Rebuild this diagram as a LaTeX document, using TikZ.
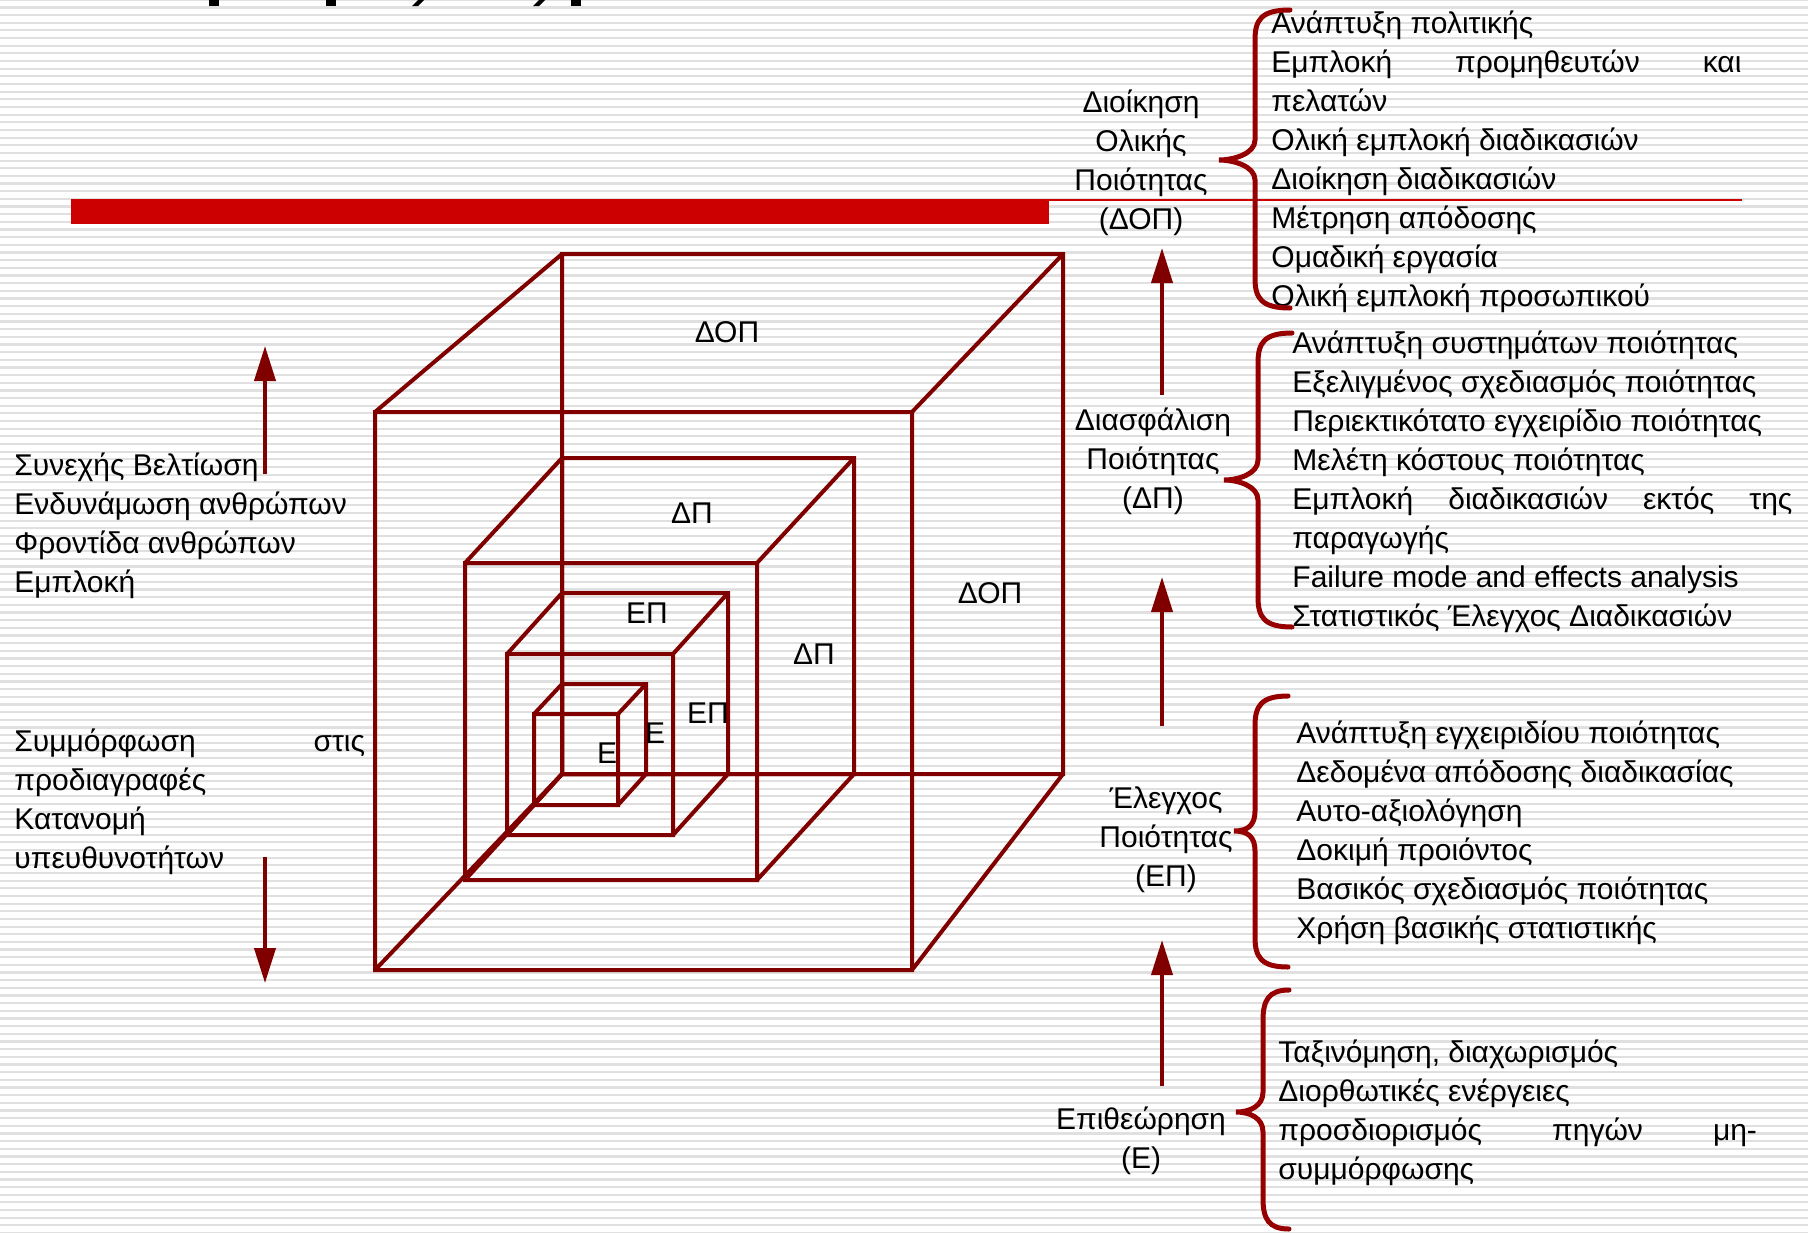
\documentclass[tikz,border=0pt]{standalone}
\usepackage{fontspec}
\setmainfont{Liberation Sans}
\usetikzlibrary{arrows.meta}
\definecolor{cubered}{RGB}{128,0,0}
\definecolor{bracered}{RGB}{150,0,0}
\definecolor{barred}{RGB}{204,0,0}
\definecolor{stripegray}{RGB}{224,224,224}
\begin{document}
\begin{tikzpicture}[x=0.5pt,y=-0.5pt] % единица = пиксель, ось y вниз
\tikzstyle{mystripe} = [draw=stripegray, line width=1.1pt] % полоски фона
\tikzstyle{mycube} = [draw=cubered, line width=2pt] % рёбра кубов
\tikzstyle{mybrace} = [draw=bracered, line width=2.5pt, line cap=round] % фигурные скобки
\tikzstyle{myarrow} = [draw=cubered, line width=2pt, -{Triangle[length=17.5pt,width=10.5pt]}] % стрелки
\tikzstyle{mytext} = [inner sep=0pt, font=\fontsize{15}{19.5}\selectfont, align=left, anchor=north west] % списки
\tikzstyle{mylevel} = [inner sep=0pt, font=\fontsize{15}{19.5}\selectfont, align=center, anchor=north] % уровни
\tikzstyle{mylabel} = [inner sep=0pt, font=\fontsize{15}{19.5}\selectfont, anchor=base] % подписи на кубах
\useasboundingbox (0,0) rectangle (1808,1232);
\fill[white] (0,0) rectangle (1808,1232);
\foreach \k [evaluate=\k as \y using 7.66*\k-0.26] in {0,...,161}
    \draw[mystripe] (0,\y) -- (1808,\y); % фон в полоску
% обрезанный заголовок
\fill (209,0) rectangle (219,6);
\fill (326,0) rectangle (336,6);
\fill (418,0) -- (424,0) -- (418,6) -- (412,6) -- cycle;
\fill (539,0) -- (545,0) -- (539,6) -- (533,6) -- cycle;
\fill (571,0) rectangle (581,6);
% красная полоса
\fill[barred] (71,199) rectangle (1049,224);
\draw[barred, line width=1pt] (1049,200) -- (1742,200);
% кубы: задняя грань / передняя грань
\foreach \bx/\by/\bX/\bY/\fx/\fy/\fX/\fY in {562/254/1063/774/375/412/912/970, 562/458/854/774/465/563/757/880, 562/593/728/774/507/654/673/835, 562/684/646/774/534/714/618/805}
    \draw[mycube] (\bx,\by) rectangle (\bX,\bY) (\fx,\fy) rectangle (\fX,\fY)
        (\bx,\by) -- (\fx,\fy) (\bX,\by) -- (\fX,\fy) (\bx,\bY) -- (\fx,\fY) (\bX,\bY) -- (\fX,\fY);
\node[mylabel] (dop1) at (727,342) {ΔΟΠ};
\node[mylabel] (dop2) at (990,603) {ΔΟΠ};
\node[mylabel] (dp1) at (692,523) {ΔΠ};
\node[mylabel] (dp2) at (814,664) {ΔΠ};
\node[mylabel] (ep1) at (647,623) {ΕΠ};
\node[mylabel] (ep2) at (708,723) {ΕΠ};
\node[mylabel] (e1) at (655,743) {Ε};
\node[mylabel] (e2) at (607,763) {Ε};
% левый столбец
\node[mytext] (left1) at (14,448.2) {\strut Συνεχής Βελτίωση\\Ενδυνάμωση ανθρώπων\\Φροντίδα ανθρώπων\\Εμπλοκή};
\node[mytext] (left2) at (14,724.2) {\strut\makebox[175.3pt][s]{Συμμόρφωση στις}\\προδιαγραφές\\Κατανομή\\υπευθυνοτήτων};
% уровни
\node[mylevel] (lvdop) at (1141,84.7) {\strut Διοίκηση\\Ολικής\\Ποιότητας\\(ΔΟΠ)};
\node[mylevel] (lvdp) at (1153,402.7) {\strut Διασφάλιση\\Ποιότητας\\(ΔΠ)};
\node[mylevel] (lvep) at (1166,780.7) {\strut Έλεγχος\\Ποιότητας\\(ΕΠ)};
\node[mylevel] (lve) at (1141,1101.7) {\strut Επιθεώρηση\\(Ε)};
% списки справа
\node[mytext] (list1) at (1271,5.7) {\strut Ανάπτυξη πολιτικής\\\makebox[235pt][s]{Εμπλοκή προμηθευτών και}\\πελατών\\Ολική εμπλοκή διαδικασιών\\Διοίκηση διαδικασιών\\Μέτρηση απόδοσης\\Ομαδική εργασία\\Ολική εμπλοκή προσωπικού};
\node[mytext] (list2) at (1292,325.7) {\strut Ανάπτυξη συστημάτων ποιότητας\\Εξελιγμένος σχεδιασμός ποιότητας\\Περιεκτικότατο εγχειρίδιο ποιότητας\\Μελέτη κόστους ποιότητας\\\makebox[250pt][s]{Εμπλοκή διαδικασιών εκτός της}\\παραγωγής\\Failure mode and effects analysis\\Στατιστικός Έλεγχος Διαδικασιών};
\node[mytext] (list3) at (1296,715.7) {\strut Ανάπτυξη εγχειριδίου ποιότητας\\Δεδομένα απόδοσης διαδικασίας\\Αυτο-αξιολόγηση\\Δοκιμή προιόντος\\Βασικός σχεδιασμός ποιότητας\\Χρήση βασικής στατιστικής};
\node[mytext] (list4) at (1278,1034.7) {\strut Ταξινόμηση, διαχωρισμός\\Διορθωτικές ενέργειες\\\makebox[239.3pt][s]{προσδιορισμός πηγών μη-}\\συμμόρφωσης};
% скобки: конец / вертикаль / острие
\foreach \xe/\xv/\xt/\yt/\ym/\yb in {1290/1255/1219/10/160/308, 1292/1258/1224/333/480/627, 1288/1255/1234/696/831/967, 1289/1263/1236/990/1112/1229}
    \draw[mybrace] (\xe,\yt) .. controls (\xv+6,\yt) and (\xv,\yt+10) .. (\xv,\yt+30)
        -- (\xv,\ym-20) .. controls (\xv,\ym-6) and (\xt+14,\ym) .. (\xt,\ym)
        .. controls (\xt+14,\ym) and (\xv,\ym+6) .. (\xv,\ym+20)
        -- (\xv,\yb-30) .. controls (\xv,\yb-10) and (\xv+6,\yb) .. (\xe,\yb);
% стрелки
\coordinate (l1s) at (265,474); \coordinate (l1e) at (265,346);
\coordinate (l2s) at (265,857); \coordinate (l2e) at (265,983);
\coordinate (r1s) at (1162,395); \coordinate (r1e) at (1162,248);
\coordinate (r2s) at (1162,726); \coordinate (r2e) at (1162,577);
\coordinate (r3s) at (1162,1086); \coordinate (r3e) at (1162,940);
\draw[myarrow] (l1s) -- (l1e);
\draw[myarrow] (l2s) -- (l2e);
\draw[myarrow] (r1s) -- (r1e);
\draw[myarrow] (r2s) -- (r2e);
\draw[myarrow] (r3s) -- (r3e);
\end{tikzpicture}
\end{document}
